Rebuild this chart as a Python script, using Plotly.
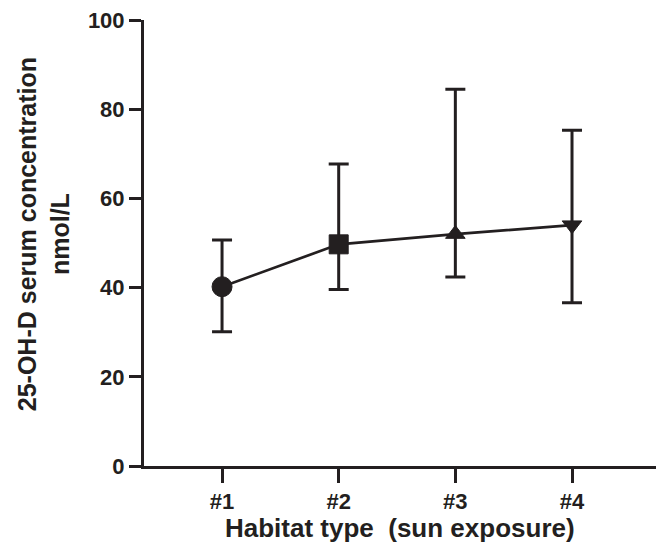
import plotly.graph_objects as go

categories = ["#1", "#2", "#3", "#4"]
positions = [1, 2, 3, 4]
means = [40.2, 49.7, 52.0, 54.0]
upper = [50.7, 67.7, 84.5, 75.3]
lower = [30.1, 39.6, 42.4, 36.6]
symbols = ["circle", "square", "triangle-up", "triangle-down"]
marker_sizes = [20, 19, 17, 17]
y_ticks = [0, 20, 40, 60, 80, 100]

INK = "#231f20"
FONT = "Liberation Sans, Arial, Helvetica, sans-serif"

err_plus = [u - m for u, m in zip(upper, means)]
err_minus = [m - l for m, l in zip(means, lower)]

fig = go.Figure()
fig.add_trace(go.Scatter(
    x=positions, y=means, mode="lines+markers",
    line=dict(color=INK, width=2.7),
    marker=dict(symbol=symbols, size=marker_sizes, color=INK, opacity=1,
                line=dict(width=1, color=INK)),
    error_y=dict(type="data", symmetric=False, array=err_plus, arrayminus=err_minus,
                 color=INK, thickness=3, width=10),
    showlegend=False,
))

fig.update_layout(
    width=656, height=556,
    margin=dict(l=144, r=0, t=20, b=90),
    plot_bgcolor="white", paper_bgcolor="white",
    font=dict(family=FONT, color=INK),
)
fig.update_xaxes(
    range=[0.331, 4.72], tickvals=positions,
    ticktext=[f"<b>{c}</b>" for c in categories],
    showgrid=False, zeroline=False, showline=True, linecolor=INK, linewidth=3,
    ticks="outside", ticklen=14, tickwidth=3, tickcolor=INK,
    tickfont=dict(family=FONT, size=22, color=INK),
)
fig.update_yaxes(
    range=[0, 100], tickvals=y_ticks,
    ticktext=[f"<b>{v}</b>" for v in y_ticks],
    showgrid=False, zeroline=False, showline=True, linecolor=INK, linewidth=3,
    ticks="outside", ticklen=12, tickwidth=3, tickcolor=INK,
    tickfont=dict(family=FONT, size=22, color=INK),
)
fig.add_annotation(
    text="<b>25-OH-D serum concentration</b><br><b>nmol/L</b>", textangle=-90,
    xref="paper", yref="paper", x=-0.197, y=0.52, xanchor="center", yanchor="middle",
    showarrow=False, font=dict(family=FONT, size=25, color=INK),
)
fig.add_annotation(
    text="<b>Habitat type  (sun exposure)</b>",
    xref="paper", yref="paper", x=0.5, y=-0.139, xanchor="center", yanchor="middle",
    showarrow=False, font=dict(family=FONT, size=26, color=INK),
)

fig.write_html("out.html")
